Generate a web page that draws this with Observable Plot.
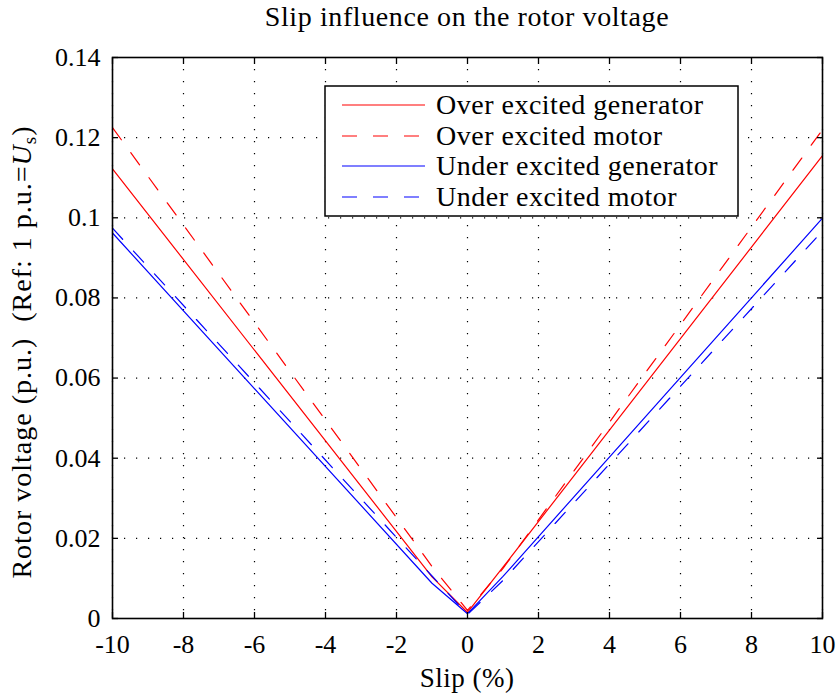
<!DOCTYPE html>
<html><head><meta charset="utf-8">
<script src="https://cdn.jsdelivr.net/npm/d3@7"></script>
<script src="https://cdn.jsdelivr.net/npm/@observablehq/plot@0.6"></script>
<style>body{margin:0;background:#fff}</style>
</head><body><div id="chart"></div>
<script>
const slip = [-10, -1, 0, 1, 10];
const overGenerator = [0.1122, 0.0104, 0.0015, 0.0128, 0.1155];
const overMotor = [0.1225, 0.0130, 0.0020, 0.0125, 0.1220];
const underGenerator = [0.0962, 0.0088, 0.0012, 0.0105, 0.0999];
const underMotor = [0.0974, 0.0106, 0.0010, 0.0095, 0.0967];
const seriesNames = ["Over excited generator", "Over excited motor", "Under excited generator", "Under excited motor"];
const seriesValues = [overGenerator, overMotor, underGenerator, underMotor];
const seriesColors = ["#ff0000", "#ff0000", "#0000ff", "#0000ff"];
const seriesDash = ["none", "15,16", "none", "15,16"];
const xTicks = [-10, -8, -6, -4, -2, 0, 2, 4, 6, 8, 10];
const xTickLabels = ["-10", "-8", "-6", "-4", "-2", "0", "2", "4", "6", "8", "10"];
const yTicks = [0, 0.02, 0.04, 0.06, 0.08, 0.1, 0.12, 0.14];
const yTickLabels = ["0", "0.02", "0.04", "0.06", "0.08", "0.1", "0.12", "0.14"];
const titleText = "Slip influence on the rotor voltage";
const xLabelText = "Slip (%)";

const font = "'Liberation Serif', 'Times New Roman', serif";
const W = 837, H = 695;
const mL = 112, mR = 15, mT = 57, mB = 77;

const lineMarks = seriesValues.map((vals, i) =>
  Plot.line(slip.map((s, j) => ({slip: s, v: vals[j]})), {
    x: "slip", y: "v", stroke: seriesColors[i], strokeWidth: 1.2,
    strokeDasharray: seriesDash[i]
  })
);

const fmtX = d => xTickLabels[xTicks.indexOf(d)];
const fmtY = d => yTickLabels[yTicks.findIndex(t => Math.abs(t - d) < 1e-9)];

const plot = Plot.plot({
  width: W, height: H,
  marginLeft: mL, marginRight: mR, marginTop: mT, marginBottom: mB,
  style: {fontFamily: font, fontSize: "25px", color: "#000", background: "#fff"},
  x: {domain: [-10, 10], label: null},
  y: {domain: [0, 0.14], label: null},
  marks: [
    Plot.gridX(xTicks, {stroke: "#000", strokeOpacity: 1, strokeWidth: 1.2, strokeDasharray: "1.2,10.8"}),
    Plot.gridY(yTicks, {stroke: "#000", strokeOpacity: 1, strokeWidth: 1.2, strokeDasharray: "1.2,10.8"}),
    ...lineMarks,
    Plot.axisX(xTicks, {anchor: "bottom", tickSize: 0, tickPadding: 16, tickFormat: fmtX, fontSize: 26, fill: "#000"}),
    Plot.axisY(yTicks, {anchor: "left", tickSize: 0, tickPadding: 12, tickFormat: fmtY, fontSize: 26, fill: "#000"}),
    Plot.axisX(xTicks, {anchor: "bottom", tickSize: -6, text: null, stroke: "#000", strokeWidth: 1.3}),
    Plot.axisX(xTicks, {anchor: "top", tickSize: -6, text: null, stroke: "#000", strokeWidth: 1.3}),
    Plot.axisY(yTicks, {anchor: "left", tickSize: -6, text: null, stroke: "#000", strokeWidth: 1.3}),
    Plot.axisY(yTicks, {anchor: "right", tickSize: -6, text: null, stroke: "#000", strokeWidth: 1.3}),
    Plot.frame({stroke: "#000", strokeWidth: 1.6})
  ]
});

const svg = d3.select(plot);
const cx = mL + (W - mL - mR) / 2;

svg.append("text").attr("x", cx).attr("y", 26).attr("text-anchor", "middle")
  .attr("font-family", font).attr("font-size", 28).attr("letter-spacing", 0.6)
  .attr("fill", "#000").text(titleText);

svg.append("text").attr("x", cx).attr("y", 687).attr("text-anchor", "middle")
  .attr("font-family", font).attr("font-size", 27).attr("letter-spacing", 0.5)
  .attr("fill", "#000").text(xLabelText);

const yl = svg.append("text").attr("transform", "translate(31,352) rotate(-90)")
  .attr("text-anchor", "middle").attr("font-family", font).attr("font-size", 28)
  .attr("letter-spacing", 1).attr("fill", "#000");
yl.append("tspan").text("Rotor voltage (p.u.)\u00A0\u00A0(Ref: 1 p.u.=");
yl.append("tspan").attr("font-style", "italic").text("U");
yl.append("tspan").attr("font-size", 19).attr("dy", 5).text("s");
yl.append("tspan").attr("dy", -5).text(")");

// legend
const lg = svg.append("g");
const lx0 = 325, ly0 = 86, lw = 413, lh = 130;
lg.append("rect").attr("x", lx0).attr("y", ly0).attr("width", lw).attr("height", lh)
  .attr("fill", "#fff").attr("stroke", "#000").attr("stroke-width", 1.5);
const rowY = [105, 136, 166, 197];
seriesNames.forEach((name, i) => {
  lg.append("line").attr("x1", 342).attr("x2", 425).attr("y1", rowY[i]).attr("y2", rowY[i])
    .attr("stroke", seriesColors[i]).attr("stroke-width", 1.2).attr("stroke-dasharray", seriesDash[i]);
  lg.append("text").attr("x", 436).attr("y", rowY[i] + 9).attr("text-anchor", "start")
    .attr("font-family", font).attr("font-size", 28).attr("letter-spacing", 0.5)
    .attr("fill", "#000").text(name);
});

document.getElementById("chart").appendChild(plot);
</script>
</body></html>
